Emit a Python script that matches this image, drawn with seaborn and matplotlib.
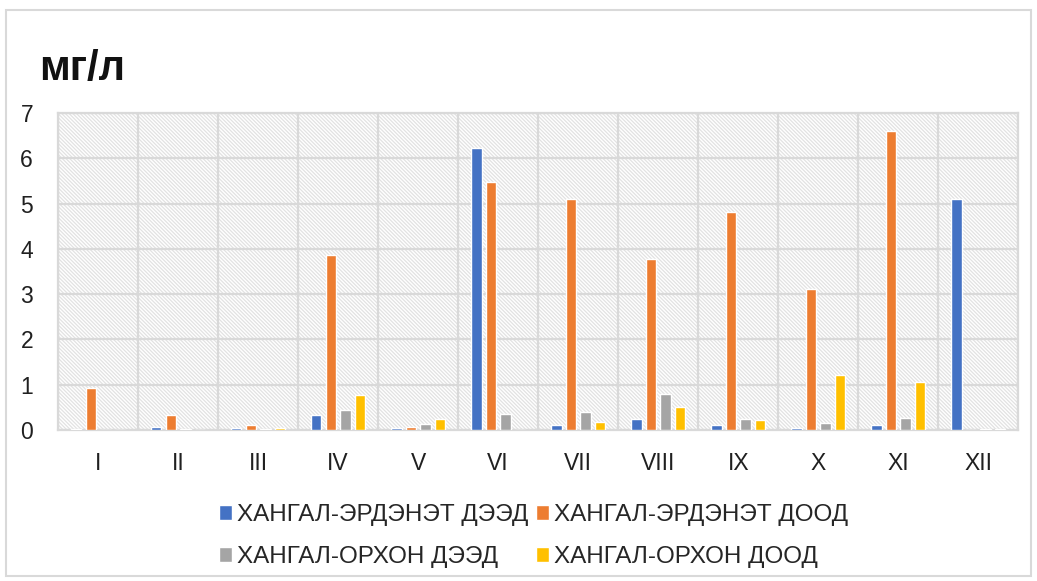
import numpy as np
import pandas as pd
import matplotlib
matplotlib.use("Agg")
import matplotlib.pyplot as plt
from matplotlib.patches import Rectangle
import seaborn as sns

months = ["I", "II", "III", "IV", "V", "VI", "VII", "VIII", "IX", "X", "XI", "XII"]
series = ["ХАНГАЛ-ЭРДЭНЭТ ДЭЭД", "ХАНГАЛ-ЭРДЭНЭТ ДООД", "ХАНГАЛ-ОРХОН ДЭЭД", "ХАНГАЛ-ОРХОН ДООД"]
erdenet_upper = [0.03, 0.07, 0.04, 0.32, 0.04, 6.22, 0.12, 0.24, 0.10, 0.04, 0.10, 5.10]
erdenet_lower = [0.92, 0.34, 0.10, 3.86, 0.07, 5.47, 5.10, 3.77, 4.82, 3.12, 6.61, 0.0]
orkhon_upper = [0.0, 0.03, 0.03, 0.43, 0.13, 0.35, 0.40, 0.80, 0.24, 0.15, 0.26, 0.03]
orkhon_lower = [0.0, 0.0, 0.04, 0.77, 0.24, 0.0, 0.18, 0.51, 0.21, 1.22, 1.05, 0.03]
colors = ["#4472C4", "#ED7D31", "#A5A5A5", "#FFC000"]

df = pd.DataFrame({
    "month": months * 4,
    "series": np.repeat(series, len(months)),
    "value": erdenet_upper + erdenet_lower + orkhon_upper + orkhon_lower,
})

sns.set_style("white")
plt.rcParams["font.family"] = ["Liberation Sans", "DejaVu Sans"]
plt.rcParams["hatch.linewidth"] = 0.9

fig = plt.figure(figsize=(10.37, 5.81), dpi=100)
fig.patches.append(Rectangle((0.006, 0.008), 0.988, 0.975, transform=fig.transFigure,
                             facecolor="white", edgecolor="#d9d9d9", lw=1.5, zorder=-1))
ax = fig.add_axes([0.056, 0.26, 0.926, 0.5455])

# hatched background of the plot area
ax.add_patch(Rectangle((0, 0), 1, 1, transform=ax.transAxes, facecolor="white",
                       edgecolor="#e2e2e2", hatch="\\" * 9, lw=0, zorder=0))

sns.barplot(data=df, x="month", y="value", hue="series", order=months, hue_order=series,
            palette=colors, width=0.73, gap=0.28, saturation=1, ax=ax, zorder=3)

ax.set_ylim(0, 7)
ax.set_xlim(-0.5, len(months) - 0.5)
ax.set_yticks(range(0, 8))
ax.set_xticks(np.arange(-0.5, len(months), 1), minor=True)
ax.grid(axis="y", which="major", color="#d9d9d9", lw=1.6, zorder=1)
ax.grid(axis="x", which="minor", color="#d9d9d9", lw=1.6, zorder=1)
ax.grid(axis="x", which="major", visible=False)
ax.set_axisbelow(True)
for s in ax.spines.values():
    s.set_color("#d9d9d9")
    s.set_linewidth(1.6)
ax.tick_params(axis="both", which="both", length=0, labelsize=16.5, colors="#202020")
ax.tick_params(axis="x", pad=16)
ax.tick_params(axis="y", pad=18)
ax.set_xlabel("")
ax.set_ylabel("")

fig.text(0.038, 0.862, "мг/л", fontsize=30, fontweight="bold", color="#111111")

handles, labels = ax.get_legend_handles_labels()
order = [0, 2, 1, 3]
ax.legend([handles[i] for i in order], [labels[i] for i in order],
          loc="upper center", bbox_to_anchor=(0.495, -0.235), ncol=2,
          frameon=False, fontsize=17.5, handlelength=0.55, handleheight=0.55,
          handletextpad=0.2, columnspacing=0.3, labelspacing=0.8, borderaxespad=0,
          borderpad=0)

fig.savefig("out.png", dpi=100)
